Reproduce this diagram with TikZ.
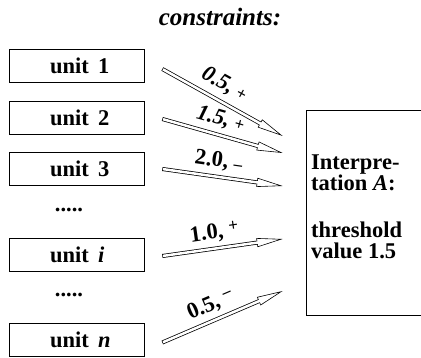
\documentclass[tikz,border=0pt]{standalone}
\usepackage{fontspec}
\setmainfont{Liberation Serif}
\usetikzlibrary{positioning, arrows.meta}
\tikzset{
  unitbox/.style={draw, line width=0.7pt, minimum width=135, minimum height=33, inner xsep=0},
  weight/.style={line width=4pt, -{Triangle[length=26pt, width=9pt, line width=0.6pt, fill=white]},
    postaction={draw=white, line width=2.5pt, -, shorten >=14pt, shorten <=0.7pt}},
}
\newcommand{\sgn}[1]{{\fontsize{17}{17}\selectfont #1}}
\newcommand{\unitlabel}[1]{\makebox[53pt][l]{unit\ \,#1}}

\begin{document}
\begin{tikzpicture}[x=1pt, y=1pt, font=\fontsize{22.5}{21}\selectfont\bfseries]
  \useasboundingbox (0,0) rectangle (421,357);
  \node[font=\fontsize{25}{25}\selectfont\bfseries\itshape] (title) at (220,340) {constraints:};
  % units
  \node[unitbox] (u1) at (76.5,291) {\unitlabel{1}};
  \node[unitbox] (u2) at (76.5,239) {\unitlabel{2}};
  \node[unitbox] (u3) at (76.5,188) {\unitlabel{3}};
  \node (dots1) at (69,147) {.....};
  \node[unitbox] (ui) at (76.5,102) {\unitlabel{\textit{i}}};
  \node (dots2) at (69,62) {.....};
  \node[unitbox] (un) at (76.5,17.5) {\unitlabel{\textit{n}}};
  % interpretation
  \node[draw, line width=0.7pt, minimum width=130, minimum height=205] (interp) at (371,144.5) {};
  \node[anchor=north west, align=left, inner sep=0] (interptext) at (311,202)
    {Interpre-\\tation \textit{A}:\\[26pt]threshold\\value 1.5};
  \coordinate (in1) at ([shift={(-23,76.5)}]interp.west);
  \coordinate (in2) at ([shift={(-23,59.5)}]interp.west);
  \coordinate (in3) at ([shift={(-23,26.5)}]interp.west);
  \coordinate (ini) at ([shift={(-23,-26.5)}]interp.west);
  \coordinate (inn) at ([shift={(-23,-78.5)}]interp.west);
  % weighted connections
  \draw[weight] ([shift={(18,-3)}]u1.east) -- node[pos=0.45, above=2pt, sloped] {\textit{0.5,}\ \sgn{+}} (in1);
  \draw[weight] ([shift={(18,-1)}]u2.east) -- node[pos=0.45, above=1pt, sloped] {\textit{1.5,}\ \sgn{+}} (in2);
  \draw[weight] ([xshift=18]u3.east) -- node[pos=0.45, above=1pt, sloped] {2.0,\ \sgn{--}} (in3);
  \draw[weight] ([shift={(18,-1)}]ui.east) -- node[pos=0.45, above=1pt, sloped] {1.0,\ \raisebox{5pt}{\sgn{+}}} (ini);
  \draw[weight] ([shift={(18,-3)}]un.east) -- node[pos=0.45, above=1pt, sloped] {0.5,\ \raisebox{6pt}{\sgn{--}}} (inn);
\end{tikzpicture}
\end{document}
